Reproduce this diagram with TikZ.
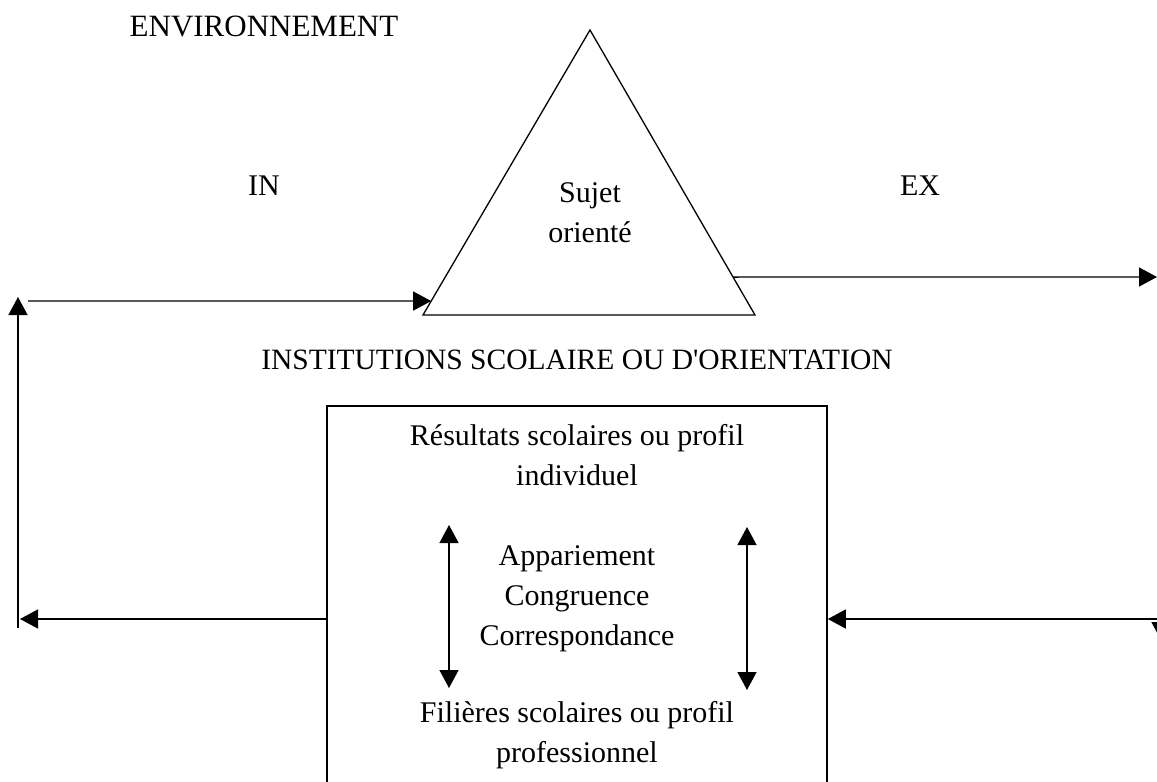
\documentclass[tikz,border=0pt]{standalone}
\usepackage{fontspec}
\setmainfont{Liberation Serif}
\usetikzlibrary{arrows.meta,calc}
\begin{document}
\begin{tikzpicture}[x=1pt,y=-1pt,
  line/.style={line width=1.3pt},
  tip/.style={-{Triangle[length=18pt,width=19pt]}},
  tips/.style={{Triangle[length=18pt,width=19pt]}-{Triangle[length=18pt,width=19pt]}},
  caplabel/.style={font=\fontsize{30}{36}\selectfont, inner sep=0pt, anchor=base},
  body/.style={font=\fontsize{30}{40}\selectfont, align=center, inner sep=0pt, anchor=base},
]
\useasboundingbox (0,0) rectangle (1157,782);
\clip (0,0) rectangle (1157,782);

% labels
\node[caplabel, font=\fontsize{31}{36}\selectfont] (env) at (264,36) {ENVIRONNEMENT};
\node[caplabel] (in) at (264,195) {IN};
\node[caplabel] (ex) at (920,195) {EX};
\node[caplabel, font=\fontsize{29.5}{36}\selectfont] (inst) at (577,369) {INSTITUTIONS SCOLAIRE OU D\textquotesingle ORIENTATION};

% triangle
\coordinate (ta) at (590,30);
\coordinate (tl) at (423,315);
\coordinate (tr) at (755,315);
\draw[line] (ta) -- (tl) -- (tr) -- cycle;
\node[body] (sujet) at (590,242) {Sujet\\orienté};

% box
\node[draw, line width=1.6pt, minimum width=500pt, minimum height=420pt, anchor=north, inner sep=0pt] (box) at (577,405) {};
\node[body] (res) at (577,485) {Résultats scolaires ou profil\\individuel};
\node[body] (app) at (577,645) {Appariement\\Congruence\\Correspondance};
\node[body] (fil) at (577,762) {Filières scolaires ou profil\\professionnel};

% double arrows inside box
\coordinate (la) at (449,525);
\coordinate (lb) at (449,688);
\coordinate (ra) at (747,527);
\coordinate (rb) at (747,690);
\draw[line, tips] (la) -- (lb);
\draw[line, tips] (ra) -- (rb);

% feedback loop
\coordinate (inl) at (28,301);
\coordinate (inr) at ($(tl)!0.049!(ta)$);
\draw[line, tip] (inl) -- (inr);
\coordinate (exl) at ($(tr)!0.133!(ta)$);
\coordinate (exr) at (1157,277);
\draw[line, tip] (exl) -- (exr);

\coordinate (vb) at (18,628);
\coordinate (vt) at (18,297);
\draw[line, tip] (vb) -- (vt);
\coordinate (bl) at (20,619);
\draw[line, tip] (box.west |- bl) -- (bl);
\coordinate (br) at (1160,619);
\draw[line, tip] (br) -- (box.east |- br);
\coordinate (rt) at (1161,277);
\coordinate (rd) at (1161,640);
\draw[line, tip] (rt) -- (rd);
\end{tikzpicture}
\end{document}
